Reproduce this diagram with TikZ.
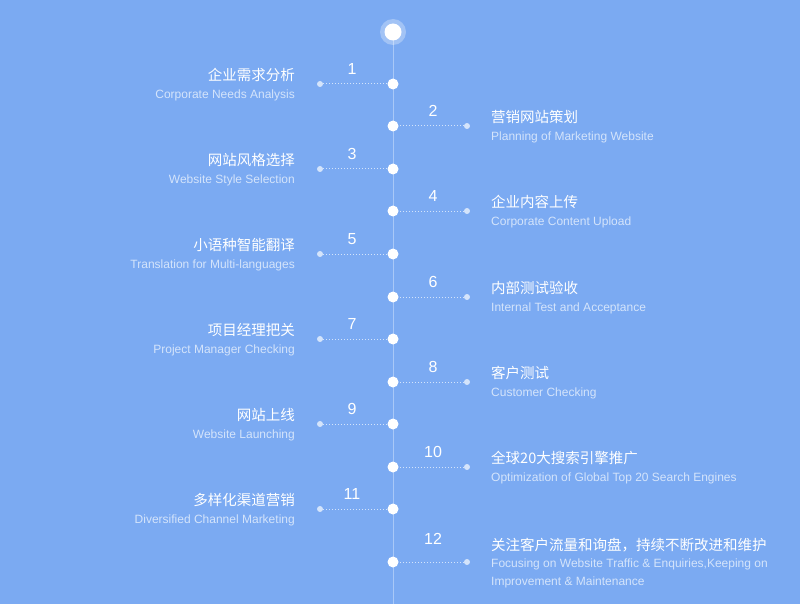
\documentclass[tikz,border=0pt]{standalone}
\usepackage{fontspec}
\setmainfont{Liberation Sans}
\newfontfamily\cjk{Noto Sans CJK SC}
\definecolor{bg}{HTML}{7BAAF2}
\definecolor{en}{HTML}{D4E4FB}
\definecolor{ln}{HTML}{A9C8F7}
\begin{document}
\begin{tikzpicture}[x=1pt,y=-1pt,
  dotb/.style={circle,fill=white,inner sep=0pt,minimum size=11pt},
  enddot/.style={circle,fill=en,inner sep=0pt,minimum size=6pt},
  conn/.style={en,dotted,line width=1pt},
  num/.style={text=white,font=\fontsize{16}{16}\selectfont},
  cn/.style={text=white,font=\cjk\fontsize{14.5}{15}\selectfont,inner sep=0pt},
  ent/.style={text=en,font=\fontsize{12}{13}\selectfont,inner sep=0pt}]
\fill[bg] (0,0) rectangle (800,604);
\useasboundingbox (0,0) rectangle (800,604);
\draw[ln,line width=1pt] (393,32) -- (393,604);
\fill[white,opacity=0.3] (393,32) circle (13);
\node[circle,fill=white,inner sep=0pt,minimum size=17pt] (top) at (393,32) {};
\foreach \i/\y/\s/\c/\e in {
 1/84/l/企业需求分析/Corporate Needs Analysis,
 2/126/r/营销网站策划/Planning of Marketing Website,
 3/169/l/网站风格选择/Website Style Selection,
 4/211/r/企业内容上传/Corporate Content Upload,
 5/254/l/小语种智能翻译/Translation for Multi-languages,
 6/297/r/内部测试验收/Internal Test and Acceptance,
 7/339/l/项目经理把关/Project Manager Checking,
 8/382/r/客户测试/Customer Checking,
 9/424/l/网站上线/Website Launching,
 10/467/r/全球20大搜索引擎推广/Optimization of Global Top 20 Search Engines,
 11/509/l/多样化渠道营销/Diversified Channel Marketing}{
 \node[dotb] (d\i) at (393,\y) {};
 \if l\s
   \node[enddot] (e\i) at (320,\y) {};
   \node[num] (n\i) at (352,\y-15) {\i};
   \node[cn,anchor=east] (c\i) at (295,\y-9) {\c};
   \node[ent,anchor=east] (t\i) at (295,\y+11) {\e};
 \else
   \node[enddot] (e\i) at (467,\y) {};
   \node[num] (n\i) at (433,\y-15) {\i};
   \node[cn,anchor=west] (c\i) at (491,\y-9) {\c};
   \node[ent,anchor=west] (t\i) at (491,\y+11) {\e};
 \fi
 \draw[conn] (e\i) -- (d\i);
}
\node[dotb] (d12) at (393,562) {};
\node[enddot] (e12) at (467,562) {};
\node[num] (n12) at (433,539) {12};
\node[cn,anchor=west] (c12) at (491,545) {关注客户流量和询盘，持续不断改进和维护};
\node[ent,anchor=west] (t12) at (491,564) {Focusing on Website Traffic \& Enquiries,Keeping on};
\node[ent,anchor=west] (u12) at (491,582) {Improvement \& Maintenance};
\draw[conn] (e12) -- (d12);
\end{tikzpicture}
\end{document}
